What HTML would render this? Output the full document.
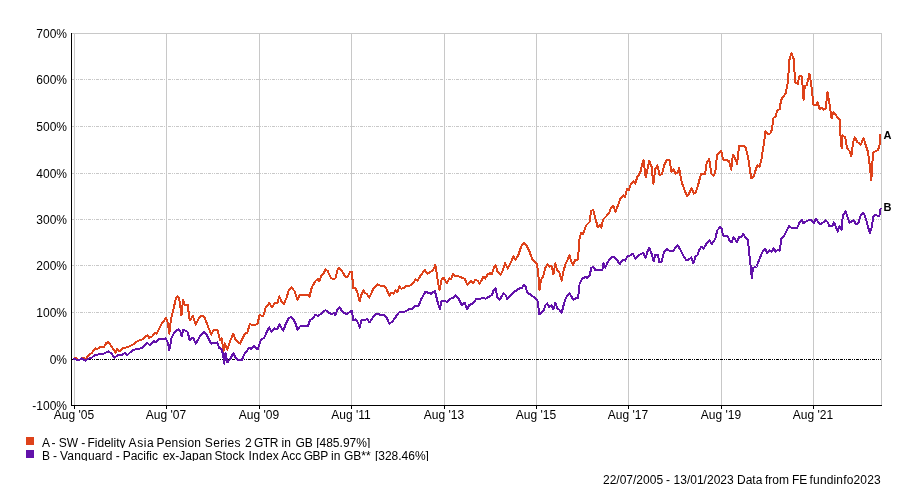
<!DOCTYPE html>
<html><head><meta charset="utf-8"><title>Chart</title>
<style>
html,body{margin:0;padding:0;background:#fff;}
svg{display:block}
text{font-family:"Liberation Sans",Arial,sans-serif;font-size:12px;fill:#000}
.b{font-weight:bold;font-size:11px}
</style></head><body>
<svg width="904" height="494" viewBox="0 0 904 494">
<rect width="904" height="494" fill="#fff"/>
<g shape-rendering="crispEdges">
<rect x="74" y="33" width="1" height="372" fill="#c8c8c8"/>
<rect x="166" y="33" width="1" height="372" fill="#c8c8c8"/>
<rect x="259" y="33" width="1" height="372" fill="#c8c8c8"/>
<rect x="351" y="33" width="1" height="372" fill="#c8c8c8"/>
<rect x="444" y="33" width="1" height="372" fill="#c8c8c8"/>
<rect x="536" y="33" width="1" height="372" fill="#c8c8c8"/>
<rect x="628" y="33" width="1" height="372" fill="#c8c8c8"/>
<rect x="721" y="33" width="1" height="372" fill="#c8c8c8"/>
<rect x="813" y="33" width="1" height="372" fill="#c8c8c8"/>
<rect x="881" y="33" width="1" height="373" fill="#c8c8c8"/>
<rect x="72" y="33" width="810" height="1" fill="#c8c8c8"/>
<line x1="72" y1="79.5" x2="881" y2="79.5" stroke="#c8c8c8" stroke-width="1" stroke-dasharray="3 1 1 1 1 1"/>
<line x1="72" y1="126.5" x2="881" y2="126.5" stroke="#c8c8c8" stroke-width="1" stroke-dasharray="3 1 1 1 1 1"/>
<line x1="72" y1="173.5" x2="881" y2="173.5" stroke="#c8c8c8" stroke-width="1" stroke-dasharray="3 1 1 1 1 1"/>
<line x1="72" y1="219.5" x2="881" y2="219.5" stroke="#c8c8c8" stroke-width="1" stroke-dasharray="3 1 1 1 1 1"/>
<line x1="72" y1="265.5" x2="881" y2="265.5" stroke="#c8c8c8" stroke-width="1" stroke-dasharray="3 1 1 1 1 1"/>
<line x1="72" y1="312.5" x2="881" y2="312.5" stroke="#c8c8c8" stroke-width="1" stroke-dasharray="3 1 1 1 1 1"/>
<line x1="72" y1="359.5" x2="881" y2="359.5" stroke="#000" stroke-width="1" stroke-dasharray="3 1 1 1 1 1"/>
<rect x="71" y="33" width="1" height="373" fill="#000"/>
<rect x="71" y="405" width="811" height="1" fill="#000"/>
<rect x="74" y="406" width="1" height="3" fill="#000"/>
<rect x="166" y="406" width="1" height="3" fill="#000"/>
<rect x="259" y="406" width="1" height="3" fill="#000"/>
<rect x="351" y="406" width="1" height="3" fill="#000"/>
<rect x="444" y="406" width="1" height="3" fill="#000"/>
<rect x="536" y="406" width="1" height="3" fill="#000"/>
<rect x="628" y="406" width="1" height="3" fill="#000"/>
<rect x="721" y="406" width="1" height="3" fill="#000"/>
<rect x="813" y="406" width="1" height="3" fill="#000"/>
</g>
<g fill="none" stroke-width="2" stroke-linejoin="round" stroke-linecap="butt" shape-rendering="crispEdges">
<polyline stroke="#DE421A" points="73.1,358.7 75.5,358 79.1,360.2 82.8,357.5 85.5,359.3 89.1,354.7 91.9,352.9 95.2,348.3 97.3,348.9 101,346.5 103.7,347.1 106.4,342.9 108.6,342 111,345.6 115.6,352.9 117,349.3 119.6,351.1 122.9,348.3 126.5,347.4 130.1,346 132.9,344.7 136.5,341.6 140.2,340.1 142.9,339.2 147.5,335 149.3,338 152,336.5 154.7,333.2 156.6,333.8 161.1,324.7 163.9,321 166,317.9 167.9,322.8 169.3,333.8 171.1,318.3 173.9,307.3 175.7,299.1 177.5,296 179.3,299.1 181.5,315.5 183,300 185.2,305.5 187.6,304.6 189.7,320.5 193,316.1 195.8,324.7 199.4,317.4 202.1,315.5 204.9,318.3 211.2,334.7 211.5,334.2 213.6,329.7 217.3,329.7 220,339.7 221.5,337.9 223.7,350.6 224.9,343.3 227.3,349.7 230,341.5 233.3,333.8 235.5,339.3 240.1,343.7 244.6,334.2 247.4,332.4 249.7,324.2 253.7,325.1 257.4,324.2 259.6,315.1 263.2,316.3 265.6,307.8 269.2,303.2 272,307.2 274.7,303.2 277.4,303.2 279.3,296.3 281.4,301.4 283.8,304.1 286.5,297.8 288.7,290.5 291.5,287.2 294.7,291.4 297.5,299.6 300,294.7 307.3,294.7 309.5,296.5 311.8,287.4 315.5,281 317.9,279.2 319.1,281.3 321.9,274.6 323.7,273.7 325.5,269.1 327.7,271 331,278.2 333.4,279.2 335.5,278.2 337.4,270 339.5,267.9 341.9,271 345.6,277.3 347.7,276.4 350.1,271.9 351.9,271.5 353.2,288.3 355.6,288.3 357.4,292.8 359.6,301.4 361.4,294.7 363.4,290.1 364.7,292.8 366.5,293.7 369.3,297.7 371.1,293.7 373.8,287.9 377.5,284.3 380.2,285.5 383.8,285.5 386.6,289.2 389.3,295.6 391.1,292.8 393.3,293.7 395.7,290.5 397.5,292.3 399.3,286.4 401.1,288.6 403.9,288.3 406.6,285.5 410.3,285.5 413.9,281.9 415.7,279.2 417.6,280.6 421.2,274.6 424.8,270 427.6,273.7 430.3,272.2 433,270 435.4,264.9 437.6,279.2 439.4,290.1 441.5,279.7 443.6,277.8 446.9,283.3 449.1,278.4 450.9,279.1 453.1,274.2 455.5,276 458.2,276 461.9,277.8 464.6,278.7 467.3,284.6 471,280.6 472.8,283.3 475.5,279.7 477.4,280.6 479.7,283.8 483.4,276.6 485.2,278.7 487.7,274.2 490.1,273.3 491.9,274.2 493.8,267.8 495.6,265.1 497.4,271.4 500.1,274.7 502,272.4 505.2,263.2 507.8,268.7 510.2,263.8 513.4,256.5 515.6,259.6 518.4,254.7 521.1,246.8 523.8,242.7 526.6,245.9 529.3,251 532,258.7 534.4,262 536.6,263.2 538,270.5 539.5,289.7 541.1,279.7 543,276.9 545.3,267.8 547.5,264.2 549.3,266.9 551.5,266 553.4,274.2 555.4,263.2 557,270.5 559.4,272.4 561.6,280.6 563.6,270.5 565.8,263.2 567.6,259.6 569.4,255 571.2,261.4 573,265.1 575.2,259.6 577.6,259.6 579.1,247.8 579.6,237.5 581.4,232.9 583.2,233.8 585.9,225.6 589.6,222 591,211.1 593.2,209.8 595.4,218.3 597.8,227.5 599.6,224.7 601.4,227.5 603.2,219.3 606,216.5 609.6,212 611.1,207.4 613.3,205.6 615.5,212 617.8,205.6 620.6,198.3 623.3,195.2 625.1,197 626.9,189.2 628.8,190.5 630.6,184.6 633.3,181.3 635.1,183.7 637.3,177 640.2,172.8 642.1,164.6 643.5,160 645.7,177.3 647.9,167.3 649.4,160.6 651.5,166.4 653.4,183.7 655.2,169.1 657.4,165.5 659.7,175.5 662.1,173.7 664.7,163.7 667,160 669.4,160 671.6,171.9 673.4,169.1 675.6,173.7 677.4,172.8 679.2,168.2 681.6,181.9 684.3,189.2 687.1,196.5 689.5,192.8 691.6,188.3 693.8,193.7 695.6,192.8 698,185.5 700,177.4 701.4,173.9 705,173.9 706.8,162.5 709.2,159 711.3,173.9 713.5,175.6 715.3,172.4 717,154.7 719.1,153.3 721.3,150.9 723,159.4 726.2,160 729.1,161.1 731.2,169.6 732.9,154.7 734.7,157.1 737.1,163.7 739,146.2 741.1,145.5 743.2,145.5 745.6,147.6 748.2,157.6 749.9,169.6 751.3,178.4 753.6,176.7 756,168.9 757.4,165.4 759.5,166.8 761.6,158.3 763.8,144.1 765.5,131.3 767.3,133.5 770.2,133.5 772.3,128.5 773,118.4 775.5,116.5 777.3,110.2 779.7,109.3 781,100.1 783.3,96.5 785.7,93.2 787.9,81.9 789.4,60 791.5,52.8 793.7,59.1 795.2,82.8 797.9,83.7 799.2,76.4 801.9,76.4 803.6,100.1 804.7,86.5 807,84.7 809.4,73.7 811.2,83.7 813.4,104.7 816.1,104.7 817.4,102 819.8,109.3 821.6,107.8 823.4,109.6 825.8,108.3 827.4,91.9 829.5,103.8 831.6,118.4 833.5,112 836.2,115.6 839.8,120.2 839.8,120.9 840.3,133.7 841.6,148.3 842.5,135.5 845.3,137.3 847.1,148.3 849.5,151 851.3,156.5 853.1,141.9 854.9,137.3 857.1,141.9 860.8,144.6 863.5,138.2 865.9,145.5 868,151.9 869.9,166.5 871.3,180.2 872.6,160.1 873.5,152.3 876.2,151 878.1,150.1 879.9,143.7 880.4,134.1"/>
<polyline stroke="#6212AA" points="73.1,359.3 75.5,359.3 79.1,360.2 81.8,358.4 85.5,360.6 88.2,358.7 91.9,357.5 95.5,354.7 100.1,354.4 104.6,353.3 108.3,351.4 111,353.3 114.7,357.5 117.7,355.1 121.9,355.1 124.7,352.9 127.4,355.1 130.1,352.5 133.8,349.6 138.3,349.3 142.9,347.4 147.5,342.9 149.6,345.2 153.8,341.1 155.7,342 158.4,339.2 161.1,339.2 165.7,338.3 167.9,342.9 169.3,350.2 171.7,337.4 174.8,331.9 178.4,329.2 180.3,331 181.7,336.5 183.4,329.6 187.6,331.9 189.7,340.1 193,337.4 195.8,343.8 200.3,335.6 204,331.9 206.7,334.7 211.2,343.8 211.5,343.3 213.6,343.3 217.3,342.4 219.1,347.9 221.3,348.8 223.1,354.3 224.2,363.7 225.5,353.3 227.3,362.5 230,359.4 233.3,353.3 235.5,357.5 238.2,360.1 241.9,360.1 243.7,355.2 246.4,351.5 249.2,347.9 251,348.8 253.7,346.1 257.7,349.2 260.1,341.9 261.9,338.8 264.1,338.2 266.5,332.7 269.2,327.3 271.4,332 274.7,328.4 277.4,329.1 279.3,324.2 281.4,327.8 283.4,330.6 285.6,324.2 288.4,318.7 291.1,316.9 293.5,319.6 296,324.7 297.5,329.7 300,326.5 304.6,326.2 308.2,325.6 310,320.2 312.8,318.3 315.5,314.7 318.2,316 321.9,312.9 325.5,310.1 329.2,312.9 331.9,314.2 333.7,312.9 335.5,315.2 337.4,309.2 339.5,307.4 342.8,312 346.5,314.2 350.1,311.6 351.9,311.1 353.2,320.2 355.6,319.3 358.3,322.9 359.6,327.5 361.4,320.2 367.4,319.3 369.6,322.4 372.9,317.4 376.5,313.8 380.2,314.7 383.8,314.7 387.1,318.3 389.3,323.8 392.9,321.1 396.6,315.6 399.7,311.6 404.8,311.6 409.3,309.2 412.1,308.7 415.7,305.6 418.5,306.1 421.2,299.2 425.4,291.9 428.5,292.8 431.2,293.7 434.9,291 437.6,301.9 439.8,309.2 441.5,301.5 444.6,300.6 447.3,302.4 450,298.8 452.8,297.9 455.5,295.1 458.2,297.9 461.9,305.2 464.6,302.8 467.3,309.4 469.2,305.2 473.7,302.8 476.4,298.8 480.1,298.8 483.7,297.9 485.6,298.8 489.2,296.6 491.9,295.1 493.8,289.7 495.6,288.2 497.4,297.9 499.8,299.7 503.4,293.3 505.6,295.1 507.4,299.2 510.2,296.1 514.7,291.5 520.2,287.9 522,288.2 523.8,284.6 525.7,286.9 527.1,292.4 531.1,295.1 534.8,297.9 537.5,300.6 539.3,314.3 542.1,311.5 543.9,310.6 545.3,305.2 547.2,303.3 549.3,307 551.5,305.2 553.4,309.4 555.4,302.8 557,307.9 559.4,309.7 561.6,313 563.6,305.2 565.8,297.9 569.4,293.3 571.2,296.1 573.4,299.7 575.8,298.4 578,297.9 579.4,286 579.6,283.4 582.3,278.8 585,277 587.4,277.9 589.6,275.2 591.4,267.9 593.2,266.6 595.4,270.2 602.3,270.2 603.4,263.3 605.3,267.9 607.4,262.4 611.4,257.5 614.2,256.9 616.9,259.7 619.7,264.2 622.7,259.7 625.1,260.6 627.5,256 629.7,255.7 633,253.8 635.5,258.8 638.8,255.1 643.3,252.7 645.7,257.9 647.5,251.5 649.4,247.8 651.5,253.3 653.7,261.5 655.2,254.6 657.9,255.1 659.4,262.4 661.6,261.5 663.9,252.4 667,249.3 669.8,250.9 673.4,250.6 677.4,245.1 679.8,248.7 682.5,254.2 685.8,259.7 688,260 691.3,257.5 693.5,263.3 695.3,256.9 697.5,255.1 699.8,248.7 701.7,246.6 703.5,249.1 706.2,244.2 709.5,240.5 711.7,244.2 715.3,238.7 717.2,230.5 719.9,227.2 721.7,228.7 723.1,235.5 727.5,236.1 729.6,240.6 731.6,242.2 733.6,237 736.9,242.2 739.3,236.5 741.3,237 743.3,234.1 745.4,237.6 747.8,239.6 749.4,254.8 751,268.9 751.8,278 753,267.9 756.5,266.5 759.1,259.8 762,252.7 765.2,248.7 767.2,253.1 769.6,250.3 771.7,251.7 773.7,248.3 775.7,251.7 778.1,249.7 779.8,250.7 781.4,238.6 783.8,236.1 786.8,230.5 789.3,226 791.5,227.8 797,228 799.6,222.4 801.6,219.8 803.6,223.4 806.1,221.4 809.1,220 811.7,220.4 813.8,223.4 815.8,218.9 818.2,222 819.8,224.4 823.3,222.4 825.9,220.4 827.9,222.4 829.3,226 832.4,226 834,222.4 836,227.4 837.6,231.5 839.5,226.4 841.5,230.1 842.9,215.3 845.5,211.3 847.6,217.3 849.6,222.8 853.6,220 855.7,224 858.3,223.4 860.7,215.3 862.7,212.7 864.8,215.3 867.2,223.4 869.8,233.5 871.9,226.4 873.5,215.9 875.9,214.7 878.5,216.3 880.1,214.3 880.6,207.8"/>
</g>
<g>
<text x="74" y="419" text-anchor="middle">Aug '05</text>
<text x="166" y="419" text-anchor="middle">Aug '07</text>
<text x="259" y="419" text-anchor="middle">Aug '09</text>
<text x="351" y="419" text-anchor="middle">Aug '11</text>
<text x="444" y="419" text-anchor="middle">Aug '13</text>
<text x="536" y="419" text-anchor="middle">Aug '15</text>
<text x="628" y="419" text-anchor="middle">Aug '17</text>
<text x="721" y="419" text-anchor="middle">Aug '19</text>
<text x="813" y="419" text-anchor="middle">Aug '21</text>
<text x="67" y="38" text-anchor="end">700%</text>
<text x="67" y="84" text-anchor="end">600%</text>
<text x="67" y="131" text-anchor="end">500%</text>
<text x="67" y="178" text-anchor="end">400%</text>
<text x="67" y="224" text-anchor="end">300%</text>
<text x="67" y="270" text-anchor="end">200%</text>
<text x="67" y="317" text-anchor="end">100%</text>
<text x="67" y="364" text-anchor="end">0%</text>
<text x="67" y="410" text-anchor="end">-100%</text>
<text class="b" x="883.5" y="139">A</text>
<text class="b" x="883.5" y="211">B</text>
<rect x="26" y="437" width="8" height="8" fill="#DE421A"/>
<rect x="26" y="450" width="8" height="8" fill="#6212AA"/>
<defs><clipPath id="c1"><rect x="0" y="430" width="904" height="18"/></clipPath><clipPath id="c2"><rect x="0" y="449" width="904" height="12"/></clipPath></defs>
<text y="447" clip-path="url(#c1)"><tspan x="42.0">A </tspan><tspan x="51.6">- </tspan><tspan x="58.8">SW </tspan><tspan x="81.2">- </tspan><tspan x="87.5">Fidelity </tspan><tspan x="128.6" letter-spacing="0.6">Asia </tspan><tspan x="156.5" letter-spacing="0.18">Pension </tspan><tspan x="204.8" letter-spacing="0.33">Series </tspan><tspan x="245.0">2 </tspan><tspan x="253.9" letter-spacing="-0.4">GTR </tspan><tspan x="281.5">in </tspan><tspan x="295.4">GB </tspan><tspan x="316.2">[485.97%]</tspan></text>
<text y="460" clip-path="url(#c2)"><tspan x="42.0">B </tspan><tspan x="52.9">- </tspan><tspan x="60.0" letter-spacing="0.19">Vanguard </tspan><tspan x="115.8">- </tspan><tspan x="122.7">Pacific </tspan><tspan x="162.7">ex-Japan </tspan><tspan x="214.5">Stock </tspan><tspan x="248.5" letter-spacing="0.25">Index </tspan><tspan x="281.3">Acc </tspan><tspan x="303.7" letter-spacing="-0.4">GBP </tspan><tspan x="331.1">in </tspan><tspan x="343.9">GB** </tspan><tspan x="374.9">[328.46%]</tspan></text>
<text y="484"><tspan x="603.0">22/07/2005 </tspan><tspan x="666.0">- </tspan><tspan x="673.6">13/01/2023 </tspan><tspan x="737.0">Data </tspan><tspan x="765.0">from </tspan><tspan x="792.0">FE </tspan><tspan x="809.6" letter-spacing="0.15">fundinfo2023</tspan></text>
</g>
</svg></body></html>
